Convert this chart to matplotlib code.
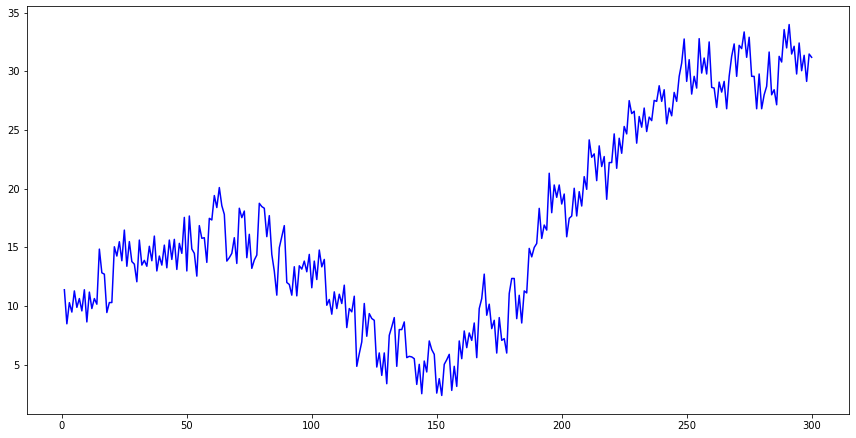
import numpy as np
import matplotlib
matplotlib.use("Agg")
import matplotlib.pyplot as plt

# values, one row per 10 steps
values = [
    11.4, 8.5, 10.3, 9.5, 11.3, 9.9, 10.65, 9.6, 11.4, 8.66,
    11.2, 9.8, 10.65, 10.17, 14.86, 12.84, 12.73, 9.46, 10.31, 10.31,
    15.06, 14.27, 15.49, 13.87, 16.48, 13.4, 15.5, 13.8, 13.58, 12.08,
    15.63, 13.5, 13.9, 13.4, 15.1, 13.87, 15.97, 13.0, 14.27, 13.5,
    15.2, 13.27, 15.63, 13.98, 15.69, 13.13, 15.35, 14.5, 17.56, 13.0,
    17.68, 14.87, 14.5, 12.56, 16.86, 15.78, 15.83, 13.73, 17.48, 17.34,
    19.42, 18.4, 20.1, 18.56, 17.82, 13.84, 14.13, 14.5, 15.83, 13.64,
    18.34, 17.54, 18.1, 14.13, 16.12, 13.22, 13.93, 14.35, 18.76, 18.48,
    18.34, 15.92, 17.71, 14.41, 12.99, 10.94, 14.98, 15.92, 16.86, 12.02,
    11.85, 10.94, 13.36, 10.88, 13.44, 13.16, 13.84, 12.93, 14.41, 11.57,
    13.84, 12.27, 14.78, 13.35, 13.98, 10.08, 10.57, 9.32, 11.22, 9.8,
    11.02, 10.23, 11.79, 8.18, 9.8, 9.52, 10.85, 4.88, 5.96, 6.96,
    10.23, 7.44, 9.37, 8.95, 8.8, 4.82, 6.02, 4.11, 6.02, 3.4,
    7.52, 8.24, 9.03, 4.88, 8.01, 8.01, 8.66, 5.62, 5.73, 5.68,
    5.53, 3.34, 5.05, 2.55, 5.33, 4.4, 7.04, 6.3, 5.9, 2.6,
    3.83, 2.4, 5.05, 5.44, 5.9, 2.83, 4.88, 3.17, 7.04, 5.53,
    7.89, 6.47, 7.72, 7.09, 8.57, 5.62, 9.8, 10.65, 12.73, 9.23,
    10.17, 8.09, 8.8, 6.01, 9.03, 7.09, 7.24, 6.01, 11.08, 12.36,
    12.36, 8.94, 10.93, 8.57, 11.3, 11.13, 14.92, 14.2, 15.0, 15.34,
    18.33, 15.77, 16.91, 16.48, 21.32, 17.96, 20.32, 19.27, 20.32, 18.7,
    19.55, 15.91, 17.48, 17.68, 20.04, 17.68, 19.75, 18.53, 21.03, 19.95,
    24.16, 22.68, 22.97, 20.69, 23.65, 21.89, 22.74, 19.1, 22.23, 22.23,
    24.67, 21.74, 24.3, 23.02, 25.3, 24.67, 27.5, 26.4, 26.6, 23.88,
    26.15, 25.24, 26.87, 24.87, 26.1, 25.8, 27.52, 27.44, 28.77, 27.44,
    28.43, 25.53, 26.87, 26.21, 28.2, 27.44, 29.57, 30.7, 32.75, 29.14,
    30.99, 28.06, 29.57, 28.57, 32.78, 29.85, 31.13, 29.77, 32.5, 28.63,
    28.57, 26.92, 29.08, 28.23, 29.14, 26.81, 29.57, 31.27, 32.33, 29.57,
    32.21, 31.93, 33.35, 31.19, 32.9, 29.57, 29.57, 26.81, 29.77, 26.81,
    28.0, 28.72, 31.64, 28.0, 28.43, 27.15, 31.27, 30.79, 33.55, 31.99,
    33.98, 31.47, 32.13, 29.77, 32.41, 30.05, 31.36, 29.14, 31.47, 31.19,
]
steps = np.arange(1, len(values) + 1)

W, H, DPI = 856, 438, 72
fig = plt.figure(figsize=(W / DPI, H / DPI), dpi=DPI)
# axes box in pixels: left 27, right 849, top 6, bottom 414
ax = fig.add_axes([27 / W, (H - 414) / H, (849 - 27) / W, (414 - 6) / H])
ax.plot(steps, values, color="blue", linewidth=1.5)
ax.set_xticks([0, 50, 100, 150, 200, 250, 300])
ax.set_yticks([5, 10, 15, 20, 25, 30, 35])

fig.savefig("out.png", dpi=DPI)
